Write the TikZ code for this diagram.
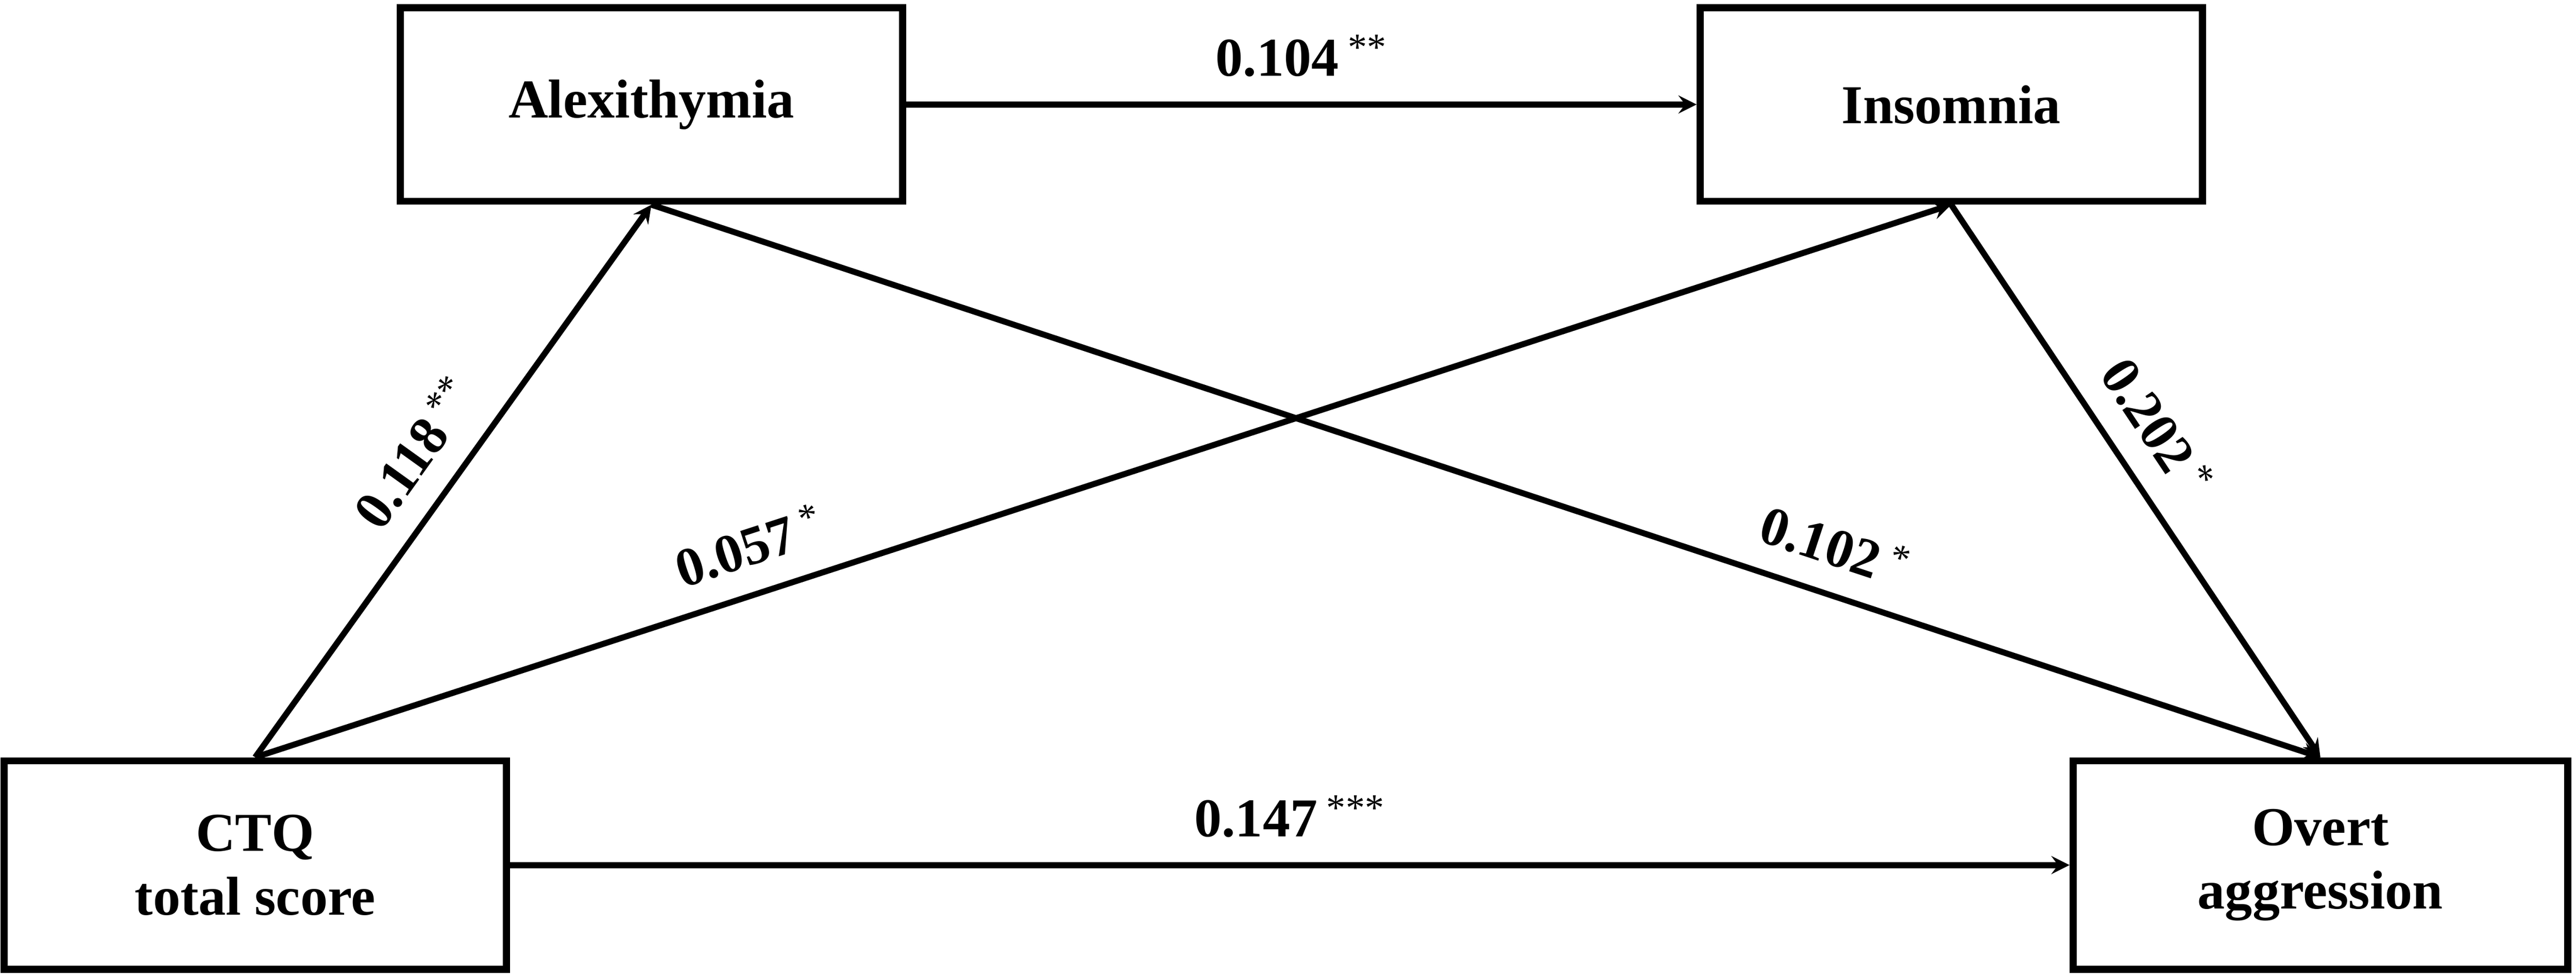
\documentclass[tikz,border=0pt]{standalone}
\usepackage{fontspec}
\setmainfont{Liberation Serif}
\usetikzlibrary{positioning}
\tikzset{
  varbox/.style={draw, line width=4pt, minimum width=10cm, minimum height=3.85cm,
    align=center, font=\fontsize{31}{36}\selectfont\bfseries},
  effect/.style={line width=3.4pt, ->, >=stealth},
  coef/.style={font=\fontsize{31}{36}\selectfont\bfseries, sloped, above, inner sep=14pt}
}
\newcommand{\sig}[1]{\,\textsuperscript{\mdseries#1}}
\begin{document}
\begin{tikzpicture}
\useasboundingbox (0,0) rectangle (51.29,19.4);
\node[varbox] (alex) at (12.97,17.32) {Alexithymia};
\node[varbox] (insom) at (38.85,17.32) {Insomnia};
\node[varbox, minimum height=4.15cm] (ctq) at (5.08,2.18) {CTQ\\total score};
\node[varbox, minimum height=4.15cm, minimum width=9.85cm] (overt) at (46.2,2.18) {Overt\\aggression};
% paths
\draw[effect] (alex) -- node[coef, sloped=false] {0.104\sig{**}} (insom);
\draw[effect] (ctq) -- node[coef, sloped=false] {0.147\sig{***}} (overt);
\draw[effect] (ctq.north) -- node[coef, pos=0.5] {0.118\sig{**}} (alex.south);
\draw[effect] (ctq.north) -- node[coef, pos=0.3] {0.057\sig{*}} (insom.south);
\draw[effect] (alex.south) -- node[coef, pos=0.7] {0.102\sig{*}} (overt.north);
\draw[effect] (insom.south) -- node[coef, pos=0.45] {0.202\sig{*}} (overt.north);
\end{tikzpicture}
\end{document}
